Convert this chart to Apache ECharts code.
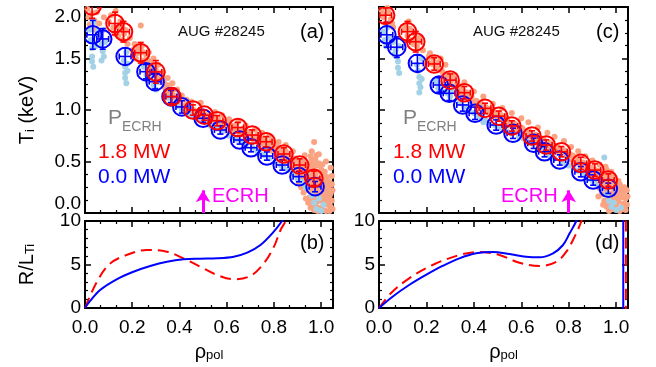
<!DOCTYPE html>
<html><head><meta charset="utf-8">
<script src="https://cdn.jsdelivr.net/npm/echarts@6/dist/echarts.min.js"></script>
<style>html,body{margin:0;padding:0;background:#fff}#c{width:656px;height:367px}</style>
</head><body><div id="c"></div>
<script>
// ---------- data ----------
// panel (a): binned Ti profiles (rho_pol, Ti [keV], Ti error)
const aRedRho = [0.03,0.127,0.163,0.236,0.30,0.368,0.457,0.505,0.559,0.647,0.708,0.767,0.842,0.909,0.969];
const aRedTi  = [2.01,1.84,1.76,1.556,1.37,1.13,1.00,0.95,0.896,0.83,0.757,0.692,0.573,0.466,0.337];
const aRedErr = [0.12,0.11,0.10,0.10,0.11,0.07,0.05,0.05,0.05,0.05,0.05,0.05,0.06,0.06,0.07];
const aBlueRho = [0.033,0.075,0.17,0.258,0.297,0.364,0.41,0.50,0.573,0.655,0.703,0.77,0.835,0.906,0.974];
const aBlueTi  = [1.73,1.69,1.52,1.372,1.275,1.13,1.03,0.92,0.806,0.709,0.634,0.553,0.466,0.353,0.256];
const aBlueErr = [0.14,0.10,0.08,0.07,0.07,0.06,0.06,0.04,0.04,0.04,0.04,0.04,0.05,0.05,0.05];
// panel (c)
const cRedRho = [0.028,0.12,0.155,0.233,0.30,0.36,0.447,0.505,0.56,0.645,0.705,0.769,0.851,0.91,0.967];
const cRedTi  = [1.92,1.76,1.663,1.447,1.29,1.168,1.016,0.94,0.845,0.748,0.66,0.595,0.482,0.417,0.32];
const cRedErr = [0.07,0.10,0.10,0.06,0.06,0.06,0.05,0.05,0.05,0.05,0.05,0.05,0.06,0.06,0.06];
const cBlueRho = [0.033,0.075,0.162,0.254,0.296,0.353,0.405,0.494,0.565,0.652,0.698,0.762,0.851,0.903,0.967];
const cBlueTi  = [1.73,1.61,1.453,1.243,1.162,1.049,0.968,0.854,0.774,0.677,0.595,0.515,0.401,0.32,0.24];
const cBlueErr = [0.12,0.10,0.08,0.07,0.07,0.06,0.06,0.05,0.05,0.05,0.05,0.05,0.05,0.05,0.05];
const rhoErr = 0.025;

// raw CXRS points (rho_pol, Ti)
const aSalmon = [[0.01,1.98],[0.015,1.9],[0.02,1.83],[0.03,1.94],[0.04,1.87],[0.05,1.95],[0.045,1.78],
[0.11,1.92],[0.12,1.80],[0.13,1.96],[0.14,1.72],[0.15,1.86],[0.16,1.68],[0.17,1.78],[0.18,1.64],
[0.21,1.64],[0.22,1.55],[0.236,1.82],[0.24,1.62],[0.25,1.48],[0.26,1.53],[0.27,1.43],[0.28,1.47],[0.29,1.38],[0.30,1.42],
[0.31,1.33],[0.32,1.27],[0.33,1.30],[0.34,1.21],[0.35,1.24],[0.36,1.16],[0.37,1.19],[0.38,1.11],[0.39,1.08],[0.40,1.12],
[0.41,1.04],[0.42,1.01],[0.43,1.05],[0.44,0.98],[0.46,1.00],[0.47,0.95],[0.49,1.07],[0.50,0.97],[0.51,0.92],[0.53,0.94],
[0.54,0.89],[0.56,0.92],[0.57,0.86],[0.59,0.88],[0.60,0.83],[0.62,0.85],[0.63,0.80],[0.64,0.86],[0.66,0.78],[0.67,0.82],
[0.69,0.75],[0.70,0.79],[0.72,0.72],[0.73,0.76],[0.75,0.69],[0.76,0.72],[0.78,0.65],[0.79,0.70],[0.80,0.62],[0.81,0.66],
[0.82,0.58],[0.83,0.62],[0.84,0.55],[0.85,0.60],[0.86,0.52],[0.87,0.57],[0.88,0.49],[0.89,0.53],[0.90,0.45],[0.90,0.38],
[0.91,0.50],[0.92,0.42],[0.92,0.33],[0.93,0.47],[0.93,0.28],[0.94,0.39],[0.94,0.22],[0.95,0.44],[0.95,0.31],[0.95,0.15],
[0.96,0.52],[0.96,0.36],[0.96,0.25],[0.96,0.08],[0.97,0.69],[0.97,0.45],[0.97,0.30],[0.97,0.18],[0.97,0.03],
[0.98,0.56],[0.98,0.40],[0.98,0.24],[0.98,0.11],[0.99,0.48],[0.99,0.33],[0.99,0.20],[0.99,0.05],
[1.00,0.42],[1.00,0.28],[1.00,0.14],[1.01,0.36],[1.01,0.22],[1.01,0.08],[1.02,0.30],[1.02,0.17],[1.02,0.02],
[1.03,0.25],[1.03,0.11],[1.04,0.19],[1.04,0.06],[1.045,0.28],
[0.06,1.84],[0.08,1.90],[0.10,1.86],[0.125,1.74],[0.145,1.80],[0.165,1.74],[0.19,1.70],[0.20,1.58],[0.215,1.50],[0.225,1.60],
[0.245,1.56],[0.255,1.42],[0.265,1.48],[0.275,1.38],[0.285,1.43],[0.295,1.34],[0.305,1.37],[0.315,1.29],[0.325,1.32],[0.335,1.26],
[0.345,1.18],[0.355,1.20],[0.365,1.12],[0.375,1.14],[0.385,1.06],[0.395,1.10],[0.405,1.07],[0.415,1.02],[0.425,0.99],[0.435,1.02],
[0.445,0.96],[0.455,0.99],[0.465,0.93],[0.48,0.97],[0.495,0.94],[0.505,0.90],[0.515,0.95],[0.525,0.91],[0.535,0.88],[0.545,0.92],
[0.555,0.87],[0.565,0.90],[0.575,0.84],[0.585,0.86],[0.595,0.80],[0.605,0.86],[0.615,0.82],[0.625,0.78],[0.635,0.83],[0.645,0.80],
[0.655,0.76],[0.665,0.81],[0.675,0.77],[0.685,0.73],[0.695,0.78],[0.705,0.74],[0.715,0.70],[0.725,0.74],[0.735,0.69],[0.745,0.72],
[0.755,0.66],[0.765,0.70],[0.775,0.64],[0.785,0.67],[0.795,0.60],[0.805,0.64],[0.815,0.57],[0.825,0.60],[0.835,0.53],[0.845,0.58],
[0.855,0.50],[0.865,0.55],[0.875,0.46],[0.885,0.51],
[0.895,0.42],[0.905,0.47],[0.905,0.30],[0.915,0.44],[0.915,0.36],[0.915,0.25],[0.925,0.50],[0.925,0.38],[0.925,0.20],[0.935,0.43],
[0.935,0.32],[0.935,0.14],[0.945,0.47],[0.945,0.35],[0.945,0.27],[0.945,0.10],[0.955,0.55],[0.955,0.40],[0.955,0.22],[0.955,0.05],
[0.965,0.48],[0.965,0.41],[0.965,0.30],[0.965,0.13],[0.975,0.52],[0.975,0.37],[0.975,0.23],[0.975,0.08],[0.985,0.46],[0.985,0.29],
[0.985,0.16],[0.985,0.02],[0.995,0.40],[0.995,0.26],[0.995,0.12],[1.005,0.47],[1.005,0.33],[1.005,0.19],[1.005,0.03],[1.015,0.40],
[1.015,0.27],[1.015,0.13],[1.025,0.35],[1.025,0.22],[1.025,0.08],[1.035,0.30],[1.035,0.16],[1.035,0.02],[1.045,0.36],[1.045,0.12],
[1.048,0.22],[1.048,0.04],[0.96,0.60],[0.99,0.57],[1.02,0.50],[1.04,0.44],[0.93,0.56],
[0.27,1.56],[0.29,1.50],[0.31,1.44],[0.33,1.37],[0.35,1.31],[0.37,1.26],[0.39,1.20],[0.41,1.14],[0.43,1.10],[0.45,1.08],
[0.55,0.98],[0.58,0.95],[0.61,0.91],[0.65,0.89],[0.68,0.85],[0.72,0.81],[0.75,0.78],[0.78,0.75],[0.82,0.69],[0.85,0.66],[0.88,0.60]];
const aLightBlue = [[0.02,1.78],[0.025,1.68],[0.03,1.60],[0.03,1.52],[0.03,1.47],[0.035,1.85],[0.06,1.72],[0.07,1.64],[0.075,1.57],[0.08,1.78],[0.08,1.52],
[0.165,1.48],[0.17,1.42],[0.17,1.36],[0.17,1.31],[0.175,1.56],[0.18,1.45],
[0.25,1.42],[0.26,1.34],[0.27,1.29],[0.28,1.35],[0.29,1.24],[0.30,1.20],[0.31,1.27],
[0.35,1.12],[0.37,1.08],[0.39,1.04],[0.41,1.00],[0.43,0.98],[0.46,0.94],[0.48,0.91],[0.51,0.88],[0.53,0.85],[0.56,0.82],[0.58,0.79],
[0.61,0.75],[0.63,0.73],[0.66,0.70],[0.68,0.66],[0.71,0.63],[0.73,0.60],[0.76,0.56],[0.78,0.53],[0.81,0.50],[0.83,0.46],[0.86,0.42],
[0.88,0.38],[0.90,0.33],[0.92,0.30],[0.94,0.24],[0.96,0.17],[0.97,0.10],[0.98,0.04],[0.99,0.14],[1.00,0.02],[1.01,0.08],
[0.045,1.62],[0.055,1.77],[0.085,1.66],[0.36,1.06],[0.44,0.95],[0.54,0.83],[0.64,0.71],[0.74,0.58],[0.84,0.44],[0.93,0.27],
[0.175,1.26],[0.18,1.38],[0.035,1.42],[0.07,1.48]];
const cSalmon = [[0.01,1.97],[0.02,1.90],[0.03,1.84],[0.04,1.95],[0.05,1.88],[0.06,1.80],
[0.11,1.82],[0.12,1.72],[0.13,1.79],[0.14,1.68],[0.15,1.74],[0.16,1.62],[0.17,1.70],
[0.21,1.52],[0.22,1.45],[0.23,1.50],[0.24,1.41],[0.25,1.46],[0.27,1.36],[0.28,1.32],[0.29,1.35],[0.30,1.27],
[0.31,1.30],[0.32,1.23],[0.33,1.26],[0.34,1.19],[0.35,1.22],[0.36,1.14],[0.37,1.17],[0.38,1.10],[0.39,1.13],[0.40,1.07],
[0.41,1.09],[0.42,1.04],[0.43,1.06],[0.44,0.99],[0.45,1.03],[0.47,0.97],[0.48,1.00],[0.50,0.93],[0.51,0.96],[0.53,0.89],
[0.54,0.92],[0.55,0.85],[0.57,0.87],[0.58,0.81],[0.60,0.83],[0.61,0.78],[0.63,0.80],[0.64,0.74],[0.66,0.76],[0.67,0.70],
[0.69,0.72],[0.70,0.66],[0.72,0.68],[0.73,0.63],[0.75,0.65],[0.76,0.59],[0.78,0.61],[0.79,0.56],[0.80,0.58],[0.81,0.52],
[0.82,0.55],[0.83,0.49],[0.84,0.52],[0.85,0.46],[0.86,0.49],[0.87,0.43],[0.88,0.46],[0.89,0.40],[0.90,0.44],[0.90,0.36],
[0.91,0.42],[0.92,0.37],[0.92,0.30],[0.93,0.40],[0.93,0.24],[0.94,0.34],[0.94,0.18],[0.95,0.38],[0.95,0.27],[0.95,0.12],
[0.96,0.42],[0.96,0.32],[0.96,0.21],[0.96,0.06],[0.97,0.36],[0.97,0.26],[0.97,0.15],[0.97,0.02],
[0.98,0.40],[0.98,0.30],[0.98,0.19],[0.98,0.09],[0.99,0.34],[0.99,0.24],[0.99,0.13],[0.99,0.04],
[1.00,0.28],[1.00,0.18],[1.00,0.08],[1.01,0.31],[1.01,0.21],[1.01,0.11],[1.02,0.25],[1.02,0.15],[1.02,0.04],
[1.03,0.20],[1.03,0.09],[1.04,0.14],[1.04,0.03],[1.045,0.22],
[0.015,1.93],[0.035,1.99],[0.055,1.84],[0.105,1.78],[0.125,1.86],[0.145,1.64],[0.165,1.66],[0.185,1.58],[0.205,1.48],[0.215,1.55],
[0.235,1.44],[0.255,1.40],[0.265,1.38],[0.285,1.29],[0.305,1.31],[0.325,1.21],[0.345,1.16],[0.355,1.19],[0.375,1.12],[0.395,1.08],
[0.405,1.05],[0.425,1.07],[0.435,1.01],[0.455,0.98],[0.465,1.01],[0.485,0.95],[0.495,0.97],[0.515,0.92],[0.525,0.94],[0.545,0.88],
[0.565,0.84],[0.575,0.86],[0.595,0.80],[0.605,0.82],[0.625,0.76],[0.635,0.78],[0.655,0.73],[0.665,0.75],[0.685,0.69],[0.695,0.71],
[0.715,0.65],[0.725,0.67],[0.745,0.61],[0.755,0.63],[0.775,0.58],[0.785,0.60],[0.805,0.54],[0.815,0.56],[0.835,0.50],[0.845,0.49],
[0.865,0.45],[0.875,0.47],[0.895,0.41],[0.905,0.39],[0.915,0.33],[0.925,0.41],[0.935,0.29],[0.945,0.37],[0.955,0.32],[0.965,0.38],
[0.975,0.31],[0.985,0.35],[0.995,0.29],[1.005,0.24],[1.015,0.28],[1.025,0.19],[1.035,0.25],[1.045,0.08],[1.048,0.16],
[0.925,0.16],[0.945,0.08],[0.965,0.10],[0.985,0.05],[1.005,0.13],[1.035,0.05],[1.015,0.02],
[0.26,1.50],[0.28,1.44],[0.32,1.34],[0.36,1.27],[0.40,1.18],[0.44,1.13],[0.48,1.06],[0.52,1.02],[0.56,0.97],[0.60,0.92],
[0.63,0.88],[0.67,0.83],[0.71,0.78],[0.74,0.74],[0.78,0.70],[0.81,0.64],[0.84,0.60],[0.87,0.55],[0.90,0.51],[0.93,0.47],[0.955,0.45]];
const cLightBlue = [[0.02,1.76],[0.025,1.68],[0.03,1.62],[0.035,1.80],[0.06,1.66],[0.07,1.58],[0.075,1.52],[0.08,1.47],[0.085,1.62],
[0.16,1.44],[0.165,1.38],[0.17,1.32],[0.17,1.26],[0.175,1.22],[0.18,1.50],
[0.24,1.28],[0.25,1.21],[0.26,1.25],[0.27,1.18],[0.29,1.16],[0.30,1.13],[0.31,1.19],
[0.34,1.07],[0.36,1.03],[0.38,1.00],[0.40,0.97],[0.42,0.94],[0.45,0.90],[0.47,0.87],[0.49,0.85],[0.51,0.83],[0.54,0.79],[0.56,0.77],
[0.59,0.74],[0.61,0.72],[0.63,0.69],[0.65,0.67],[0.68,0.63],[0.70,0.60],[0.72,0.56],[0.74,0.53],[0.77,0.50],[0.79,0.47],[0.82,0.44],
[0.84,0.41],[0.86,0.38],[0.88,0.35],[0.90,0.31],[0.92,0.28],[0.94,0.24],[0.95,0.54],[0.96,0.18],[0.97,0.12],[0.98,0.06],[0.99,0.10],[1.00,0.03],[1.02,0.05],
[0.045,1.70],[0.065,1.54],[0.08,1.41],[0.44,0.88],[0.53,0.80],[0.62,0.70],[0.71,0.58],[0.80,0.46],[0.89,0.33],
[0.17,1.17],[0.18,1.30],[0.085,1.36]];

// panels (b),(d): R/L_Ti
const bBlueRho = [0,0.02,0.064,0.134,0.205,0.276,0.347,0.417,0.488,0.559,0.63,0.687,0.743,0.793,0.835,0.85];
const bBlueVal = [0,0.75,2.07,3.3,4.17,4.83,5.32,5.6,5.67,5.71,5.9,6.36,7.24,8.58,10.03,10.8];
const bRedRho = [0,0.05,0.106,0.177,0.262,0.347,0.417,0.488,0.559,0.63,0.70,0.757,0.80,0.828,0.85,0.86];
const bRedVal = [0,3.0,5.1,6.1,6.67,6.47,5.7,4.75,3.8,3.3,3.68,5.13,7.05,8.97,10.0,10.8];
const dBlueRho = [0,0.057,0.127,0.198,0.268,0.339,0.41,0.48,0.55,0.62,0.677,0.734,0.776,0.804,0.832,0.84];
const dBlueVal = [0,1.3,2.64,3.8,4.83,5.71,6.29,6.44,6.2,5.9,5.83,6.29,7.24,8.58,10.0,10.8];
const dRedRho = [0,0.05,0.127,0.226,0.339,0.423,0.508,0.592,0.677,0.748,0.79,0.825,0.854,0.86];
const dRedVal = [0,1.69,3.41,4.94,6.09,6.44,6.09,5.2,4.83,5.32,6.47,8.2,10.0,10.6];
const dEdgeBlueRho = 1.03, dEdgeRedRho = 1.041;

// ECRH deposition
const ecrhRhoA = 0.50, ecrhRhoC = 0.80;

// axes
const xTicksMax = 1.05, xInterval = 0.2;
const tiMin = 0, tiMax = 2.0, tiInterval = 0.5;
const rlMin = 0, rlMax = 10, rlInterval = 5;

// ---------- chart ----------
const FONT = '"Liberation Sans", Arial, Helvetica, sans-serif';
const RED = '#ff0000', BLUE = '#0000ff', SALMON = '#f9a382', LBLUE = '#a3d2e6', MAG = '#ff00ff';

function axisBase(min, max, interval, minorSplit) {
  return {
    type: 'value', min, max, interval,
    axisLine: {show: true, onZero: false, lineStyle: {color: '#000', width: 2}},
    axisTick: {show: true, inside: true, length: 6, lineStyle: {color: '#000', width: 1.5}},
    minorTick: {show: true, splitNumber: minorSplit, length: 3, lineStyle: {color: '#000', width: 1.2}},
    splitLine: {show: false}, minorSplitLine: {show: false},
    axisLabel: {show: false}
  };
}
const labelStyle = {color: '#000', fontSize: 19, fontFamily: FONT};
const xAxes = [], yAxes = [];
for (let gi = 0; gi < 4; gi++) {
  const bottomPanel = (gi % 2 === 1);
  const xb = axisBase(0, xTicksMax, xInterval, 3);
  xb.gridIndex = gi; xb.position = 'bottom';
  if (bottomPanel) {
    xb.axisLabel = Object.assign({show: true, margin: 10, showMaxLabel: false, formatter: v => v.toFixed(1)}, labelStyle);
    xb.name = '{a|ρ}{s|pol}';
    xb.nameLocation = 'middle'; xb.nameGap = 32;
    xb.nameTextStyle = {color: '#000', fontFamily: FONT, rich: {
      a: {fontSize: 20, fontFamily: FONT, color: '#000', lineHeight: 22, verticalAlign: 'bottom'},
      s: {fontSize: 13, fontFamily: FONT, color: '#000', lineHeight: 8, verticalAlign: 'bottom'}}};
  }
  const xt = axisBase(0, xTicksMax, xInterval, 3);
  xt.gridIndex = gi; xt.position = 'top';
  xAxes.push(xb, xt);

  const yl = bottomPanel ? axisBase(rlMin, rlMax, rlInterval, 5) : axisBase(tiMin, tiMax, tiInterval, 4);
  yl.gridIndex = gi; yl.position = 'left';
  if (gi === 0) {
    yl.axisLabel = Object.assign({show: true, margin: 4, formatter: v => v.toFixed(1),
      verticalAlignMinLabel: 'bottom', verticalAlignMaxLabel: 'top'}, labelStyle);
    yl.name = '{a|T}{s|i}{a| (keV)}';
  }
  if (bottomPanel) {
    yl.axisLabel = Object.assign({show: true, margin: 4}, labelStyle);
  }
  if (gi === 1) yl.name = '{a|R/L}{s|Ti}';
  if (gi <= 1) {
    yl.nameLocation = 'middle'; yl.nameRotate = 90; yl.nameGap = 48;
    yl.nameTextStyle = {color: '#000', fontFamily: FONT, rich: {
      a: {fontSize: 20, fontFamily: FONT, color: '#000', lineHeight: 22, verticalAlign: 'bottom'},
      s: {fontSize: 13, fontFamily: FONT, color: '#000', lineHeight: 10, verticalAlign: 'bottom'}}};
  }
  const yr = bottomPanel ? axisBase(rlMin, rlMax, rlInterval, 5) : axisBase(tiMin, tiMax, tiInterval, 4);
  yr.gridIndex = gi; yr.position = 'right';
  yAxes.push(yl, yr);
}

function errSeries(gi, rhoArr, tiArr, errArr, color) {
  return {
    type: 'custom', xAxisIndex: 2 * gi, yAxisIndex: 2 * gi, clip: true, z: 5,
    data: rhoArr.map((r, i) => [r, tiArr[i], errArr[i]]),
    encode: {x: 0, y: 1},
    renderItem: (params, api) => {
      const x = api.value(0), y = api.value(1), e = api.value(2);
      const c = api.coord([x, y]);
      const t = api.coord([x, y + e]), b = api.coord([x, y - e]);
      const l = api.coord([x - rhoErr, y]), r = api.coord([x + rhoErr, y]);
      const st = {stroke: color, lineWidth: 1.6};
      const cap = 3;
      return {type: 'group', children: [
        {type: 'circle', shape: {cx: c[0], cy: c[1], r: 8.8}, style: {stroke: color, lineWidth: 2, fill: 'transparent'}},
        {type: 'line', shape: {x1: c[0], y1: t[1], x2: c[0], y2: b[1]}, style: st},
        {type: 'line', shape: {x1: c[0] - cap, y1: t[1], x2: c[0] + cap, y2: t[1]}, style: st},
        {type: 'line', shape: {x1: c[0] - cap, y1: b[1], x2: c[0] + cap, y2: b[1]}, style: st},
        {type: 'line', shape: {x1: l[0], y1: c[1], x2: r[0], y2: c[1]}, style: st},
        {type: 'line', shape: {x1: l[0], y1: c[1] - cap, x2: l[0], y2: c[1] + cap}, style: st},
        {type: 'line', shape: {x1: r[0], y1: c[1] - cap, x2: r[0], y2: c[1] + cap}, style: st}
      ]};
    }
  };
}
function dots(gi, pts, color, extra) {
  return Object.assign({type: 'scatter', xAxisIndex: 2 * gi, yAxisIndex: 2 * gi, data: pts,
    symbol: 'circle', symbolSize: 6, itemStyle: {color: color, opacity: 1}, silent: true, clip: true, z: 2}, extra || {});
}
function ecrhMark(rho) {
  return {silent: true, symbol: ['none', 'arrow'], symbolSize: [11, 12], label: {show: false},
    lineStyle: {color: MAG, width: 3, type: 'solid'},
    data: [[{coord: [rho, 0]}, {coord: [rho, 0.22]}]], animation: false};
}
function curve(gi, rho, val, color, dashed) {
  return {type: 'line', xAxisIndex: 2 * gi, yAxisIndex: 2 * gi, data: rho.map((r, i) => [r, val[i]]),
    showSymbol: false, smooth: 0.35, clip: true, z: 4,
    lineStyle: {color: color, width: 2, type: dashed ? [11, 6] : 'solid'}};
}

const series = [
  dots(0, aSalmon, SALMON, {markLine: ecrhMark(ecrhRhoA)}),
  dots(0, aLightBlue, LBLUE),
  errSeries(0, aBlueRho, aBlueTi, aBlueErr, BLUE),
  errSeries(0, aRedRho, aRedTi, aRedErr, RED),
  dots(2, cSalmon, SALMON, {markLine: ecrhMark(ecrhRhoC)}),
  dots(2, cLightBlue, LBLUE),
  errSeries(2, cBlueRho, cBlueTi, cBlueErr, BLUE),
  errSeries(2, cRedRho, cRedTi, cRedErr, RED),
  curve(1, bRedRho, bRedVal, RED, true),
  curve(1, bBlueRho, bBlueVal, BLUE, false),
  curve(3, dRedRho, dRedVal, RED, true),
  curve(3, dBlueRho, dBlueVal, BLUE, false),
  curve(3, [dEdgeBlueRho, dEdgeBlueRho], [rlMin - 1, rlMax + 1], BLUE, false),
  curve(3, [dEdgeRedRho, dEdgeRedRho], [rlMin - 1, rlMax + 1], RED, true)
];

function txt(x, y, text, size, color) {
  return {type: 'text', x: x, y: y, silent: true, z: 100,
    style: {text: text, fontSize: size, fontFamily: FONT, fill: color, align: 'left', verticalAlign: 'middle'}};
}
const graphic = [
  txt(178, 32, 'AUG #28245', 15, '#111'), txt(300, 32, '(a)', 20, '#000'),
  txt(473, 32, 'AUG #28245', 15, '#111'), txt(596, 32, '(c)', 20, '#000'),
  txt(300, 243, '(b)', 20, '#000'), txt(595, 243, '(d)', 20, '#000'),
  txt(108, 118, 'P', 21, '#808080'), txt(122, 127, 'ECRH', 14, '#808080'),
  txt(98, 152, '1.8 MW', 21, RED), txt(98, 177, '0.0 MW', 21, BLUE),
  txt(403, 118, 'P', 21, '#808080'), txt(417, 127, 'ECRH', 14, '#808080'),
  txt(393, 152, '1.8 MW', 21, RED), txt(393, 177, '0.0 MW', 21, BLUE),
  txt(212, 196, 'ECRH', 20, MAG), txt(501, 196, 'ECRH', 20, MAG)
];

const chart = echarts.init(document.getElementById('c'), null, {renderer: 'canvas'});
chart.setOption({
  animation: false,
  backgroundColor: '#fff',
  grid: [
    {left: 85, top: 7, width: 248, height: 206},
    {left: 85, top: 221, width: 248, height: 87},
    {left: 379, top: 7, width: 249, height: 206},
    {left: 379, top: 221, width: 249, height: 87}
  ],
  xAxis: xAxes, yAxis: yAxes, series: series, graphic: graphic
});
</script></body></html>
